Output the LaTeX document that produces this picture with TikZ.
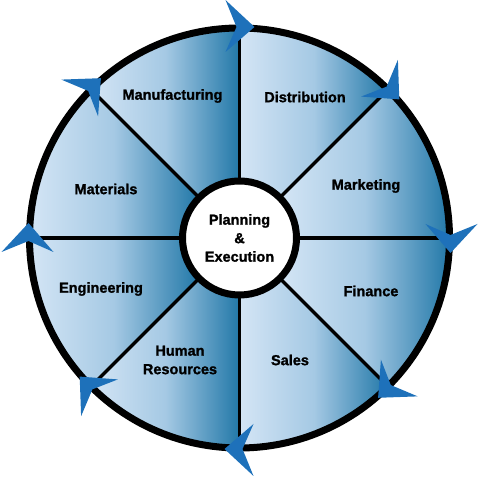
\documentclass[tikz,border=0pt]{standalone}
\usepackage{fontspec}
\setmainfont{Liberation Sans}[BoldFeatures={FakeBold=1.3}]
\usetikzlibrary{calc}
\definecolor{arrowblue}{RGB}{30,113,186}
\definecolor{seclight}{RGB}{212,229,245}
\definecolor{secmid}{RGB}{165,201,228}
\definecolor{secdark}{RGB}{34,120,168}
\begin{document}
\begin{tikzpicture}[x=1pt,y=1pt,
  lbl/.style={font=\fontsize{14.5}{18.5}\selectfont\bfseries, align=center, text=black},
  sector/.style={left color=seclight, right color=secdark, middle color=secmid},
  spoke/.style={line width=3.5pt, black},
  ring/.style={line width=7pt, black},
  arrowtip/.style={fill=arrowblue}]
\useasboundingbox (0,0) rectangle (480,478);
\coordinate (C) at (239.5,240);
% sectors
\foreach \a [evaluate=\a as \b using \a+45] in {0,45,...,315} {
  \shade[sector] ($(C)+(\a:58)$) arc[start angle=\a, end angle=\b, radius=58]
     -- ($(C)+(\b:210)$) arc[start angle=\b, end angle=\a, radius=210] -- cycle;
}
% spokes
\foreach \a in {0,45,...,315} {
  \coordinate (s\a) at ($(C)+(\a:57)$);
  \coordinate (e\a) at ($(C)+(\a:210)$);
  \draw[spoke] (s\a) -- (e\a);
}
% outer ring
\draw[ring] (C) circle[radius=210];
% centre
\node[circle, draw=black, fill=white, line width=7pt, minimum size=114pt, inner sep=0pt,
      lbl] (centre) at (C) {Planning\\\&\\Execution};
% arrowheads
\foreach \a in {0,45,...,315} {
  \coordinate (p\a) at ($(C)+(\a:211)$);
  \fill[arrowtip, shift={(p\a)}, rotate=\a-90]
     (15,0) -- (-14,27) -- (-3,0) -- (-14,-25) -- cycle;
}
% labels
\node[lbl] (manufacturing) at (172.5,382) {Manufacturing};
\node[lbl] (distribution) at (305,381) {Distribution};
\node[lbl] (marketing) at (366,292) {Marketing};
\node[lbl] (finance) at (371,187) {Finance};
\node[lbl] (sales) at (290,118) {Sales};
\node[lbl] (hr) at (180,118) {Human\\Resources};
\node[lbl] (engineering) at (101,189) {Engineering};
\node[lbl] (materials) at (106,289) {Materials};
\end{tikzpicture}
\end{document}
